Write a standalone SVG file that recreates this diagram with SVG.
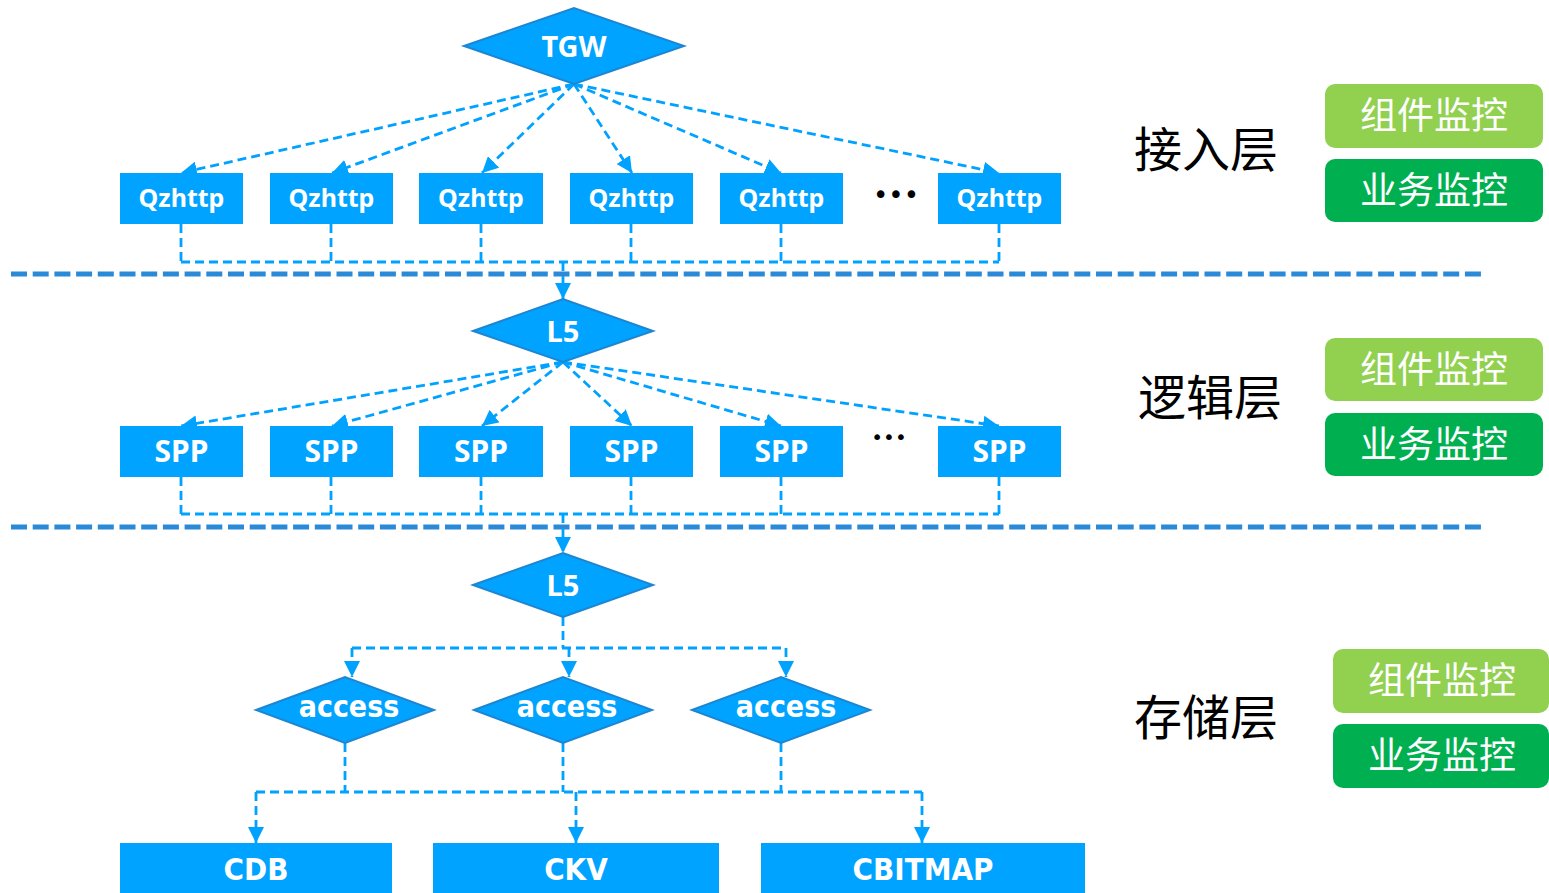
<svg xmlns="http://www.w3.org/2000/svg" width="1549" height="893" viewBox="0 0 1549 893">
<defs>
<marker id="arr" markerUnits="userSpaceOnUse" markerWidth="17" markerHeight="16" refX="16" refY="8" orient="auto">
<path d="M0,0 L16,8 L0,16 z" fill="#00a2ff"/>
</marker>
<style>
.box{fill:#00a3ff}
.dia{fill:#00a3ff;stroke:#1d86d2;stroke-width:2}
.lbl{fill:#fff;font-family:"Noto Sans","Open Sans",sans-serif;font-weight:bold;text-anchor:middle}
.cond{fill:#fff;font-family:"DejaVu Sans Condensed","DejaVu Sans",sans-serif;font-stretch:condensed;font-weight:bold;text-anchor:middle}
.con{fill:none;stroke:#00a2ff;stroke-width:2.8;stroke-dasharray:9 5}
.arw{marker-end:url(#arr)}
.sep{stroke:#2a8ad8;stroke-width:5;stroke-dasharray:16 5.7}
.layer{fill:#000;font-family:"Noto Sans CJK SC",sans-serif;font-size:48px;text-anchor:middle}
.mon{fill:#fff;font-family:"Noto Sans CJK SC",sans-serif;font-size:37px;text-anchor:middle}
.g1{fill:#92d050}
.g2{fill:#00b050}
.dots{fill:#000;font-family:"DejaVu Sans",sans-serif;text-anchor:middle}
</style>
</defs>
<rect width="1549" height="893" fill="#fff"/>

<g id="separators">
<line class="sep" x1="11" y1="274" x2="1484" y2="274"/>
<line class="sep" x1="11" y1="527" x2="1484" y2="527"/>
</g>

<g id="connectors">
<line class="con arw" x1="574" y1="84" x2="181" y2="173"/>
<line class="con arw" x1="574" y1="84" x2="332" y2="173"/>
<line class="con arw" x1="574" y1="84" x2="482" y2="173"/>
<line class="con arw" x1="574" y1="84" x2="632" y2="173"/>
<line class="con arw" x1="574" y1="84" x2="781" y2="173"/>
<line class="con arw" x1="574" y1="84" x2="999" y2="173"/>
<path class="con" d="M181,224 V262 M331,224 V262 M481,224 V262 M631,224 V262 M781,224 V262 M999,224 V262 M181,262 H999"/>
<line class="con arw" x1="563" y1="262" x2="563" y2="299"/>

<line class="con arw" x1="563" y1="362" x2="181" y2="426"/>
<line class="con arw" x1="563" y1="362" x2="332" y2="426"/>
<line class="con arw" x1="563" y1="362" x2="482" y2="426"/>
<line class="con arw" x1="563" y1="362" x2="632" y2="426"/>
<line class="con arw" x1="563" y1="362" x2="781" y2="426"/>
<line class="con arw" x1="563" y1="362" x2="999" y2="426"/>
<path class="con" d="M181,477 V514 M331,477 V514 M481,477 V514 M631,477 V514 M781,477 V514 M999,477 V514 M181,514 H999"/>
<line class="con arw" x1="563" y1="514" x2="563" y2="553"/>

<path class="con" d="M563,617 V648 M352,648 H786"/>
<line class="con arw" x1="352" y1="648" x2="352" y2="677"/>
<line class="con arw" x1="569" y1="648" x2="569" y2="677"/>
<line class="con arw" x1="786" y1="648" x2="786" y2="677"/>

<path class="con" d="M345,743 V792 M563,743 V792 M781,743 V792 M256,792 H922"/>
<line class="con arw" x1="256" y1="792" x2="256" y2="843"/>
<line class="con arw" x1="576" y1="792" x2="576" y2="843"/>
<line class="con arw" x1="922" y1="792" x2="922" y2="843"/>
</g>

<g id="tgw"><polygon class="dia" points="464,46 574,8 684,46 574,84"/><text class="lbl" x="574" y="57" font-size="29">TGW</text></g>

<g id="qzhttp1"><rect class="box" x="120" y="173" width="123" height="51"/><text class="lbl" x="181.5" y="207" font-size="25">Qzhttp</text></g>
<g id="qzhttp2"><rect class="box" x="270" y="173" width="123" height="51"/><text class="lbl" x="331.5" y="207" font-size="25">Qzhttp</text></g>
<g id="qzhttp3"><rect class="box" x="419" y="173" width="124" height="51"/><text class="lbl" x="481" y="207" font-size="25">Qzhttp</text></g>
<g id="qzhttp4"><rect class="box" x="570" y="173" width="123" height="51"/><text class="lbl" x="631.5" y="207" font-size="25">Qzhttp</text></g>
<g id="qzhttp5"><rect class="box" x="720" y="173" width="123" height="51"/><text class="lbl" x="781.5" y="207" font-size="25">Qzhttp</text></g>
<g id="qzhttp6"><rect class="box" x="938" y="173" width="123" height="51"/><text class="lbl" x="999.5" y="207" font-size="25">Qzhttp</text></g>
<g id="dots1"><text class="dots" x="896" y="204" font-size="26">•••</text></g>

<g id="l5a"><polygon class="dia" points="473,331 563,299 653,331 563,362"/><text class="lbl" x="563" y="342" font-size="29">L5</text></g>

<g id="spp1"><rect class="box" x="120" y="426" width="123" height="51"/><text class="lbl" x="181.5" y="462" font-size="30">SPP</text></g>
<g id="spp2"><rect class="box" x="270" y="426" width="123" height="51"/><text class="lbl" x="331.5" y="462" font-size="30">SPP</text></g>
<g id="spp3"><rect class="box" x="419" y="426" width="124" height="51"/><text class="lbl" x="481" y="462" font-size="30">SPP</text></g>
<g id="spp4"><rect class="box" x="570" y="426" width="123" height="51"/><text class="lbl" x="631.5" y="462" font-size="30">SPP</text></g>
<g id="spp5"><rect class="box" x="720" y="426" width="123" height="51"/><text class="lbl" x="781.5" y="462" font-size="30">SPP</text></g>
<g id="spp6"><rect class="box" x="938" y="426" width="123" height="51"/><text class="lbl" x="999.5" y="462" font-size="30">SPP</text></g>
<g id="dots2"><text class="dots" x="889" y="444" font-size="20">•••</text></g>

<g id="l5b"><polygon class="dia" points="473,585 563,553 653,585 563,617"/><text class="lbl" x="563" y="596" font-size="29">L5</text></g>

<g id="access1"><polygon class="dia" points="256,710 345,677 434,710 345,743"/><text class="cond" x="349" y="717" font-size="30">access</text></g>
<g id="access2"><polygon class="dia" points="474,710 563,677 652,710 563,743"/><text class="cond" x="567" y="717" font-size="30">access</text></g>
<g id="access3"><polygon class="dia" points="692,710 781,677 870,710 781,743"/><text class="cond" x="786" y="717" font-size="30">access</text></g>

<g id="cdb"><rect class="box" x="120" y="843" width="272" height="50"/><text class="cond" x="256" y="880" font-size="31">CDB</text></g>
<g id="ckv"><rect class="box" x="433" y="843" width="286" height="50"/><text class="cond" x="576" y="880" font-size="31">CKV</text></g>
<g id="cbitmap"><rect class="box" x="761" y="843" width="324" height="50"/><text class="cond" x="923" y="880" font-size="31">CBITMAP</text></g>

<g id="layer1"><text class="layer" x="1206" y="167">接入层</text></g>
<g id="layer2"><text class="layer" x="1210" y="415">逻辑层</text></g>
<g id="layer3"><text class="layer" x="1206" y="735">存储层</text></g>

<g id="mon1a"><rect class="g1" x="1325" y="84" width="218" height="64" rx="10"/><text class="mon" x="1434" y="129">组件监控</text></g>
<g id="mon1b"><rect class="g2" x="1325" y="159" width="218" height="63" rx="10"/><text class="mon" x="1434" y="204">业务监控</text></g>
<g id="mon2a"><rect class="g1" x="1325" y="338" width="218" height="63" rx="10"/><text class="mon" x="1434" y="383">组件监控</text></g>
<g id="mon2b"><rect class="g2" x="1325" y="413" width="218" height="63" rx="10"/><text class="mon" x="1434" y="458">业务监控</text></g>
<g id="mon3a"><rect class="g1" x="1333" y="649" width="216" height="64" rx="10"/><text class="mon" x="1442" y="694">组件监控</text></g>
<g id="mon3b"><rect class="g2" x="1333" y="724" width="216" height="64" rx="10"/><text class="mon" x="1442" y="769">业务监控</text></g>
</svg>
